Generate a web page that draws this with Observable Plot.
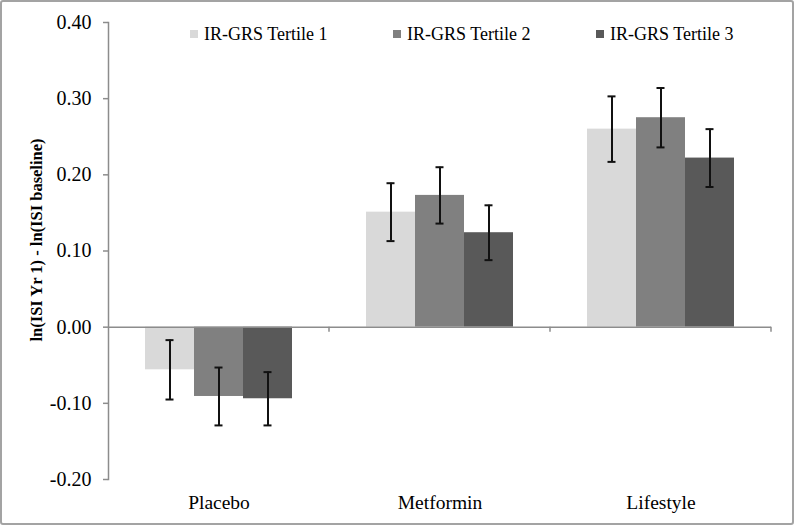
<!DOCTYPE html>
<html>
<head>
<meta charset="utf-8">
<script src="https://cdn.jsdelivr.net/npm/d3@7"></script>
<script src="https://cdn.jsdelivr.net/npm/@observablehq/plot@0.6"></script>
<style>
  html, body { margin: 0; padding: 0; background: #fff; }
  #wrap { position: relative; width: 794px; height: 525px; font-family: "Liberation Serif", serif; overflow: hidden; }
  #chart { position: absolute; left: 0; top: 0; }
  #legend { position: absolute; left: 190px; top: 24px; display: flex; }
  .item { display: flex; align-items: center; width: 203px; font-size: 18px; line-height: 20px; color: #000; white-space: nowrap; }
  .sw { width: 8px; height: 8px; margin-right: 6px; flex: none; }
  #ytitle { position: absolute; left: 37px; top: 240px; transform: translate(-50%, -50%) rotate(-90deg); font-weight: bold; font-size: 16.5px; white-space: nowrap; color: #000; }
  #border { position: absolute; left: 0; top: 0; width: 794px; height: 525px; box-sizing: border-box; border: 2px solid #a3a3a3; border-radius: 3px; pointer-events: none; }
</style>
</head>
<body>
<div id="wrap">
  <div id="chart"></div>
  <div id="legend"></div>
  <div id="ytitle"></div>
  <div id="border"></div>
</div>
<script>
const groups = ["Placebo", "Metformin", "Lifestyle"];
const tertiles = ["IR-GRS Tertile 1", "IR-GRS Tertile 2", "IR-GRS Tertile 3"];
const tertile1 = [-0.056, 0.151, 0.260];
const tertile2 = [-0.091, 0.173, 0.275];
const tertile3 = [-0.094, 0.124, 0.222];
const err1 = [0.039, 0.038, 0.043];
const err2 = [0.038, 0.037, 0.039];
const err3 = [0.035, 0.036, 0.038];
const yTicks = [-0.2, -0.1, 0, 0.1, 0.2, 0.3, 0.4];
const yTitle = "ln(ISI Yr 1) - ln(ISI baseline)";
const colors = ["#d9d9d9", "#808080", "#595959"];

const values = [tertile1, tertile2, tertile3];
const errs = [err1, err2, err3];
const data = [];
groups.forEach((g, i) => {
  tertiles.forEach((t, j) => {
    const v = values[j][i], e = errs[j][i];
    data.push({group: g, tertile: t, value: v, lo: v - e, hi: v + e});
  });
});

const axisGray = "#8c8c8c";

// boundary ticks under the zero line at the right edge of each category band
const boundaryTicks = (index, scales, vals, dims) => {
  const r = scales.x.range();
  const xr = Math.max(...r);
  const y0 = scales.y(0);
  const g = document.createElementNS("http://www.w3.org/2000/svg", "g");
  const l = document.createElementNS("http://www.w3.org/2000/svg", "line");
  l.setAttribute("x1", xr); l.setAttribute("x2", xr);
  l.setAttribute("y1", y0); l.setAttribute("y2", y0 + 5);
  l.setAttribute("stroke", axisGray); l.setAttribute("stroke-width", 1.5);
  g.appendChild(l);
  return g;
};

const chart = Plot.plot({
  width: 794,
  height: 525,
  marginLeft: 107,
  marginRight: 22,
  marginTop: 22,
  marginBottom: 46,
  style: {fontFamily: "Liberation Serif, serif", fontSize: "19.5px", background: "transparent", color: "#000"},
  fx: {domain: groups, padding: 0},
  x: {domain: tertiles, paddingInner: 0, paddingOuter: 0.75},
  y: {domain: [-0.2, 0.4]},
  color: {domain: tertiles, range: colors},
  marks: [
    Plot.barY(data, {fx: "group", x: "tertile", y: "value", fill: "tertile"}),
    Plot.ruleX(data, {fx: "group", x: "tertile", y1: "lo", y2: "hi", stroke: "#111", strokeWidth: 2}),
    Plot.tickY(data, {fx: "group", x: "tertile", y: "lo", stroke: "#111", strokeWidth: 2, insetLeft: 20.5, insetRight: 20.5}),
    Plot.tickY(data, {fx: "group", x: "tertile", y: "hi", stroke: "#111", strokeWidth: 2, insetLeft: 20.5, insetRight: 20.5}),
    Plot.frame({anchor: "left", facetAnchor: "left", stroke: axisGray, strokeWidth: 1.5}),
    Plot.ruleY([0], {stroke: axisGray, strokeWidth: 1.5}),
    boundaryTicks,
    Plot.axisY({ticks: yTicks, tickFormat: d => d.toFixed(2), tickSize: 5, tickPadding: 12, stroke: axisGray, strokeWidth: 1.5, fill: "#000", label: null, fontSize: 20}),
    Plot.axisFx({anchor: "bottom", tickSize: 0, tickPadding: 16, label: null, fill: "#000", fontSize: 19.5}),
    Plot.axisX({ticks: [], label: null})
  ]
});
document.getElementById("chart").appendChild(chart);

const legend = document.getElementById("legend");
tertiles.forEach((t, j) => {
  const item = document.createElement("div");
  item.className = "item";
  const sw = document.createElement("span");
  sw.className = "sw";
  sw.style.background = colors[j];
  const tx = document.createElement("span");
  tx.textContent = t;
  item.appendChild(sw); item.appendChild(tx);
  legend.appendChild(item);
});
document.getElementById("ytitle").textContent = yTitle;
</script>
</body>
</html>
